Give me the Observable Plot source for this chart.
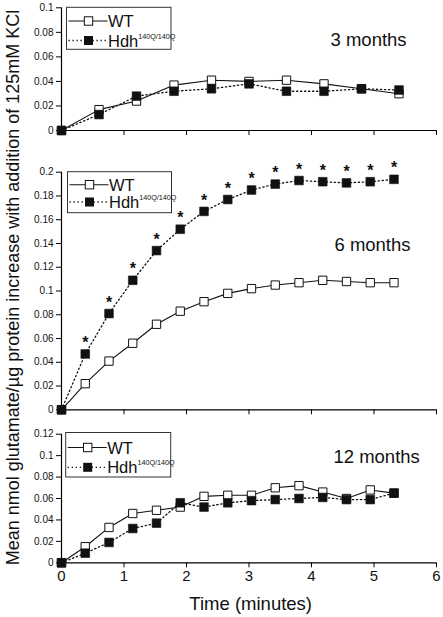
<!DOCTYPE html>
<html>
<head>
<meta charset="utf-8">
<script src="https://cdn.jsdelivr.net/npm/d3@7"></script>
<script src="https://cdn.jsdelivr.net/npm/@observablehq/plot@0.6"></script>
<style>
  body { margin: 0; background: #fff; }
  #root { position: relative; width: 443px; height: 617px; background: #fff; overflow: hidden;
          font-family: "Liberation Sans", Arial, Helvetica, sans-serif; }
  #root > svg { position: absolute; left: 0; }
</style>
</head>
<body>
<div id="root"></div>
<script>
// ---------- data ----------
const xTicks = [0, 1, 2, 3, 4, 5, 6];
const yTicks3 = [0, 0.02, 0.04, 0.06, 0.08, 0.1];
const yTicks6 = [0, 0.02, 0.04, 0.06, 0.08, 0.1, 0.12, 0.14, 0.16, 0.18, 0.2];
const yTicks12 = [0, 0.02, 0.04, 0.06, 0.08, 0.1, 0.12];

const seriesNames = ["WT", "Hdh"];
const panelLabels = ["3 months", "6 months", "12 months"];

const time3 = [0, 0.6, 1.2, 1.8, 2.4, 3.0, 3.6, 4.2, 4.8, 5.4];
const wt3   = [0, 0.017, 0.024, 0.037, 0.041, 0.040, 0.041, 0.038, 0.034, 0.030];
const hdh3  = [0, 0.013, 0.028, 0.032, 0.034, 0.038, 0.032, 0.032, 0.034, 0.033];

const time6 = [0, 0.38, 0.76, 1.14, 1.52, 1.9, 2.28, 2.66, 3.04, 3.42, 3.8, 4.18, 4.56, 4.94, 5.32];
const wt6   = [0, 0.022, 0.041, 0.056, 0.072, 0.083, 0.091, 0.098, 0.102, 0.105, 0.107, 0.109, 0.108, 0.107, 0.107];
const hdh6  = [0, 0.047, 0.081, 0.109, 0.134, 0.152, 0.167, 0.177, 0.185, 0.190, 0.193, 0.192, 0.191, 0.192, 0.194];
const sig6  = [0, 1, 1, 1, 1, 1, 1, 1, 1, 1, 1, 1, 1, 1, 1];

const time12 = [0, 0.38, 0.76, 1.14, 1.52, 1.9, 2.28, 2.66, 3.04, 3.42, 3.8, 4.18, 4.56, 4.94, 5.32];
const wt12   = [0, 0.015, 0.033, 0.046, 0.049, 0.052, 0.062, 0.063, 0.063, 0.070, 0.072, 0.066, 0.060, 0.068, 0.065];
const hdh12  = [0, 0.009, 0.019, 0.032, 0.037, 0.056, 0.052, 0.056, 0.058, 0.059, 0.060, 0.061, 0.059, 0.059, 0.065];

// ---------- drawing ----------
const FONT = '"Liberation Sans", Arial, Helvetica, sans-serif';
const root = document.getElementById("root");

function rows(time, vals, sig) {
  return time.map((t, i) => ({t, v: vals[i], s: sig ? sig[i] : 0}));
}

function panel(cfg) {
  const wt = rows(cfg.time, cfg.wt);
  const hdh = rows(cfg.time, cfg.hdh, cfg.sig);
  const marks = [
    Plot.axisY({ticks: cfg.yTicks, tickSize: 5, tickPadding: 3, tickFormat: d => String(d),
                fontSize: 10, label: null, stroke: "#000"}),
    Plot.axisX({ticks: xTicks, tickSize: 5, tickFormat: () => "", label: null, stroke: "#000"}),
    Plot.ruleX([0], {stroke: "#000", strokeWidth: 1.2}),
    Plot.ruleY([0], {stroke: "#000", strokeWidth: 1.2}),
    Plot.line(wt, {x: "t", y: "v", stroke: "#111", strokeWidth: 1.1}),
    Plot.line(hdh, {x: "t", y: "v", stroke: "#111", strokeWidth: 1.3, strokeDasharray: "1.3,2.7"}),
    Plot.dot(wt, {x: "t", y: "v", symbol: "square", r: 4.7, fill: "#fff", stroke: "#111", strokeWidth: 1}),
    Plot.dot(hdh, {x: "t", y: "v", symbol: "square", r: 4.9, fill: "#111", stroke: "#111", strokeWidth: 0.6}),
    Plot.text([cfg.label], {text: d => d, frameAnchor: "top-left", textAnchor: "start", lineAnchor: "bottom",
                dx: cfg.labelX - 61, dy: cfg.labelBase - cfg.top - cfg.marginTop,
                fontSize: 18.5, fill: "#111"})
  ];
  if (cfg.xLabels) {
    marks.push(Plot.text(xTicks, {x: d => d, text: d => String(d), frameAnchor: "bottom", lineAnchor: "top",
                dy: 8, fontSize: 15, fill: "#111"}));
  }
  if (cfg.sig) {
    marks.push(Plot.text(hdh.filter(d => d.s), {x: "t", y: "v", text: () => "*", dy: -11,
                fontSize: 16, fontWeight: "bold", fill: "#111"}));
  }
  const svg = Plot.plot({
    width: 443, height: cfg.height,
    marginLeft: 61, marginRight: 7, marginTop: cfg.marginTop, marginBottom: cfg.marginBottom,
    x: {domain: [0, 6]},
    y: {domain: cfg.yDomain},
    style: {fontFamily: FONT, background: "transparent", color: "#111", overflow: "visible"},
    marks
  });
  svg.style.top = cfg.top + "px";
  root.appendChild(svg);
}

panel({time: time3, wt: wt3, hdh: hdh3, yDomain: [0, 0.1], yTicks: yTicks3,
       top: 0, marginTop: 7.3, height: 140, marginBottom: 10, xLabels: false,
       label: panelLabels[0], labelX: 330, labelBase: 45});
panel({time: time6, wt: wt6, hdh: hdh6, sig: sig6, yDomain: [0, 0.2], yTicks: yTicks6,
       top: 150, marginTop: 21.7, height: 269.3, marginBottom: 10, xLabels: false,
       label: panelLabels[1], labelX: 334, labelBase: 251});
panel({time: time12, wt: wt12, hdh: hdh12, yDomain: [0, 0.12], yTicks: yTicks12,
       top: 420, marginTop: 13.7, height: 172.3, marginBottom: 30, xLabels: true,
       label: panelLabels[2], labelX: 333, labelBase: 463});

// ---------- overlay: legends and axis titles ----------
const NS = "http://www.w3.org/2000/svg";
const ov = document.createElementNS(NS, "svg");
ov.setAttribute("width", 443); ov.setAttribute("height", 617);
ov.style.position = "absolute"; ov.style.left = "0"; ov.style.top = "0";
ov.style.fontFamily = FONT;
root.appendChild(ov);
function el(tag, attrs, text) {
  const e = document.createElementNS(NS, tag);
  for (const k in attrs) e.setAttribute(k, attrs[k]);
  if (text != null) e.textContent = text;
  ov.appendChild(e);
  return e;
}
const legends = [
  {x: 66.5, y: 7.3, w: 104.5, h: 42, r1: 21, r2: 40.5},
  {x: 67.5, y: 171.7, w: 104, h: 41, r1: 184.7, r2: 202},
  {x: 65.7, y: 432.5, w: 105, h: 44.5, r1: 447.5, r2: 467.3}
];
for (const L of legends) {
  el("rect", {x: L.x, y: L.y, width: L.w, height: L.h, fill: "#fff", stroke: "#333", "stroke-width": 1});
  el("line", {x1: L.x + 2, x2: L.x + 41, y1: L.r1, y2: L.r1, stroke: "#111", "stroke-width": 1.1});
  el("rect", {x: L.x + 22 - 4.2, y: L.r1 - 4.2, width: 8.4, height: 8.4, fill: "#fff", stroke: "#111"});
  el("text", {x: L.x + 41.5, y: L.r1 + 6, "font-size": 16.5, fill: "#111"}, seriesNames[0]);
  el("line", {x1: L.x + 2, x2: L.x + 41, y1: L.r2, y2: L.r2, stroke: "#111", "stroke-width": 1.3, "stroke-dasharray": "1.3,2.7"});
  el("rect", {x: L.x + 22 - 4.5, y: L.r2 - 4.5, width: 9, height: 9, fill: "#111"});
  const t = el("text", {x: L.x + 41.5, y: L.r2 + 6, "font-size": 16.5, fill: "#111"}, seriesNames[1]);
  const sup = document.createElementNS(NS, "tspan");
  sup.setAttribute("font-size", 7.2); sup.setAttribute("dy", -8);
  sup.textContent = "140Q/140Q";
  t.appendChild(sup);
}
el("text", {transform: "translate(18.5,287.5) rotate(-90)", "text-anchor": "middle", "font-size": 18, fill: "#111"},
   "Mean nmol glutamate/µg protein increase with addition of 125mM KCl");
el("text", {x: 250.7, y: 610, "text-anchor": "middle", "font-size": 18.5, fill: "#111"}, "Time (minutes)");
</script>
</body>
</html>
